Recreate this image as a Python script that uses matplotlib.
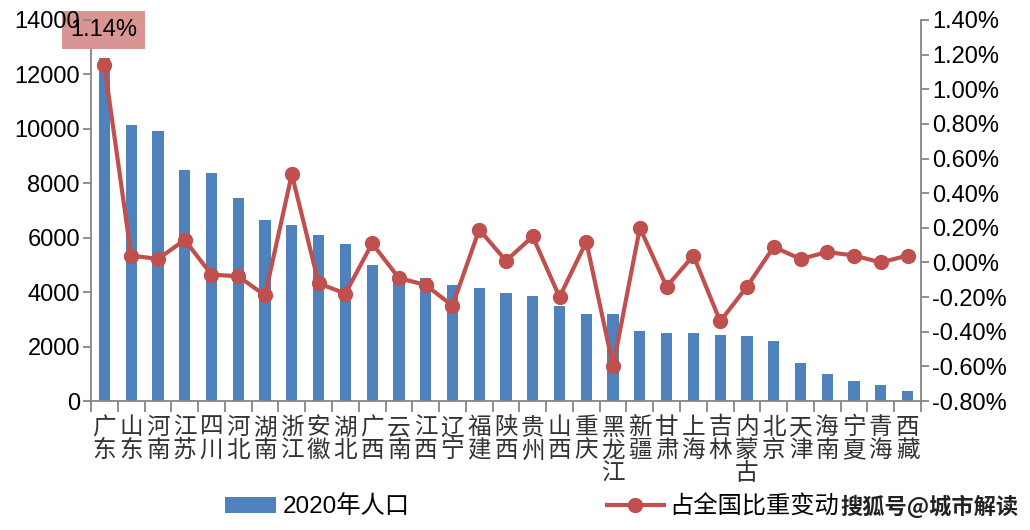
import matplotlib
matplotlib.use('Agg')
import matplotlib.pyplot as plt
from matplotlib.lines import Line2D
from matplotlib.patches import Patch
from matplotlib.ticker import FuncFormatter, MultipleLocator

plt.rcParams['font.family'] = ['Liberation Sans', 'Noto Sans CJK SC', 'DejaVu Sans']

provinces = ['广东', '山东', '河南', '江苏', '四川', '河北', '湖南', '浙江', '安徽', '湖北',
             '广西', '云南', '江西', '辽宁', '福建', '陕西', '贵州', '山西', '重庆', '黑龙江',
             '新疆', '甘肃', '上海', '吉林', '内蒙古', '北京', '天津', '海南', '宁夏', '青海', '西藏']

# 2020 population (10k people)
population = [12601, 10153, 9937, 8475, 8367, 7461, 6644, 6457, 6103, 5775,
              5013, 4721, 4519, 4259, 4154, 3953, 3856, 3492, 3205, 3185,
              2585, 2502, 2487, 2407, 2405, 2189, 1387, 1008, 720, 592, 365]

# change of share in national total (%)
share_change = [1.14, 0.04, 0.02, 0.13, -0.07, -0.08, -0.19, 0.51, -0.12, -0.18,
                0.11, -0.09, -0.13, -0.25, 0.19, 0.01, 0.15, -0.20, 0.12, -0.60,
                0.20, -0.14, 0.04, -0.34, -0.14, 0.09, 0.02, 0.06, 0.04, 0.00, 0.04]

bar_color = '#4f81bd'
line_color = '#c0504d'
axis_color = '#868686'

fig = plt.figure(figsize=(10.3, 5.3), dpi=100)
ax = fig.add_axes([91 / 1030, 1 - 401 / 530, 830 / 1030, 381 / 530])
ax2 = ax.twinx()

x = list(range(len(provinces)))
ax.bar(x, population, width=0.42, color=bar_color, zorder=2)
ax2.plot(x, share_change, color=line_color, linewidth=3, marker='o', markersize=10,
         zorder=3)

ax.set_xlim(-0.5, len(provinces) - 0.5)
ax.set_ylim(0, 14000)
ax.yaxis.set_major_locator(MultipleLocator(2000))
ax2.set_ylim(-0.8, 1.4)
ax2.yaxis.set_major_locator(MultipleLocator(0.2))
ax2.yaxis.set_major_formatter(FuncFormatter(lambda v, p: '%.2f%%' % v))

# category labels stacked vertically, tick marks between categories
ax.set_xticks(x)
ax.set_xticklabels(['\n'.join(p) for p in provinces], family=['Noto Sans CJK SC'],
                   fontsize=17, linespacing=1.0, va='top')
ax.tick_params(axis='x', which='major', length=0, pad=11, colors='#333333')
ax.set_xticks([i - 0.5 for i in range(len(provinces) + 1)], minor=True)
ax.tick_params(axis='x', which='minor', length=8, width=1.3, color=axis_color)

ax.tick_params(axis='y', length=6, width=1.3, color=axis_color, labelsize=17, pad=2)
ax2.tick_params(axis='y', length=6, width=1.3, color=axis_color, labelsize=17, pad=2)

# left/bottom spines from ax, right spine from ax2
ax.spines[['top', 'right']].set_visible(False)
ax2.spines[['top', 'left', 'bottom']].set_visible(False)
for sp in (ax.spines['left'], ax.spines['bottom'], ax2.spines['right']):
    sp.set_color(axis_color)
    sp.set_linewidth(1.3)
ax.spines['left'].set_zorder(0.5)

# label of the top value, under the tick labels like in the original
ax.text(70 / 1030, 1 - 30 / 530, '1.14%', fontsize=17, va='center', ha='left',
        transform=fig.transFigure, clip_on=False, zorder=1,
        bbox=dict(boxstyle='square,pad=0.33', facecolor='#d99594', edgecolor='none'))

# legends
fig.legend(handles=[Patch(facecolor=bar_color, label='2020年人口')],
           loc='center left', bbox_to_anchor=(203 / 1030, 1 - 507 / 530),
           frameon=False, handlelength=2.1, handleheight=0.65, handletextpad=0.3,
           prop={'family': ['Liberation Sans', 'Noto Sans CJK SC'], 'size': 17.5})
fig.legend(handles=[Line2D([0], [0], color=line_color, linewidth=3, marker='o',
                           markersize=10, label='占全国比重变动')],
           loc='center left', bbox_to_anchor=(585 / 1030, 1 - 507 / 530),
           frameon=False, handlelength=2.35, handletextpad=0.2,
           prop={'family': ['Noto Sans CJK SC'], 'size': 17.5})

fig.text(840 / 1030, 1 - 507 / 530, '搜狐号@城市解读', family=['Noto Sans CJK SC'],
         fontsize=16, fontweight='bold', va='center', ha='left', color='#222222')

fig.savefig('out.png', dpi=100)
